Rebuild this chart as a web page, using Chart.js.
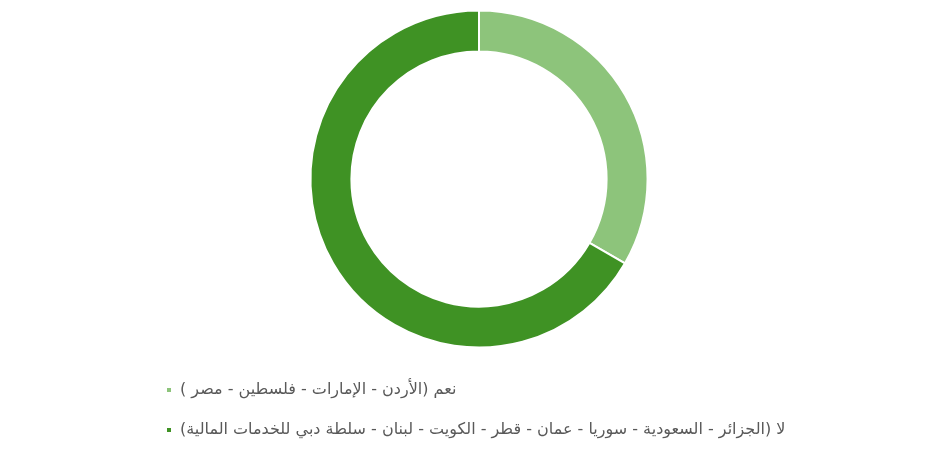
<!DOCTYPE html>
<html lang="ar">
<head>
<meta charset="utf-8">
<title>Doughnut</title>
<script src="https://cdn.jsdelivr.net/npm/chart.js@4/dist/chart.umd.min.js"></script>
<style>
  html, body { margin: 0; padding: 0; background: #ffffff; }
  #wrap { width: 947px; height: 450px; }
</style>
</head>
<body>
<div id="wrap"><canvas id="chart" width="947" height="450"></canvas></div>
<script>
// Answer groups (legend labels) and number of members in each
const categories = [
  'نعم (الأردن - الإمارات - فلسطين - مصر )',
  'لا (الجزائر - السعودية - سوريا - عمان - قطر - الكويت - لبنان - سلطة دبي للخدمات المالية)'
];
const counts = [4, 8];
const sliceColors = ['#8dc47b', '#3f9224'];

new Chart(document.getElementById('chart'), {
  type: 'doughnut',
  data: {
    labels: categories,
    datasets: [{
      data: counts,
      backgroundColor: sliceColors,
      borderColor: '#ffffff',
      borderWidth: 2,
      radius: '94.7%',
      cutout: '75.7%'
    }]
  },
  options: {
    responsive: false,
    animation: false,
    events: [],
    layout: { padding: { left: 142, right: 131, top: 0, bottom: 2 } },
    plugins: {
      tooltip: { enabled: false },
      legend: {
        position: 'bottom',
        align: 'start',
        textDirection: 'rtl',
        labels: {
          boxWidth: 6,
          boxHeight: 6,
          padding: 24,
          color: '#595959',
          font: { family: 'DejaVu Sans', size: 16 }
        }
      }
    }
  }
});
</script>
</body>
</html>
